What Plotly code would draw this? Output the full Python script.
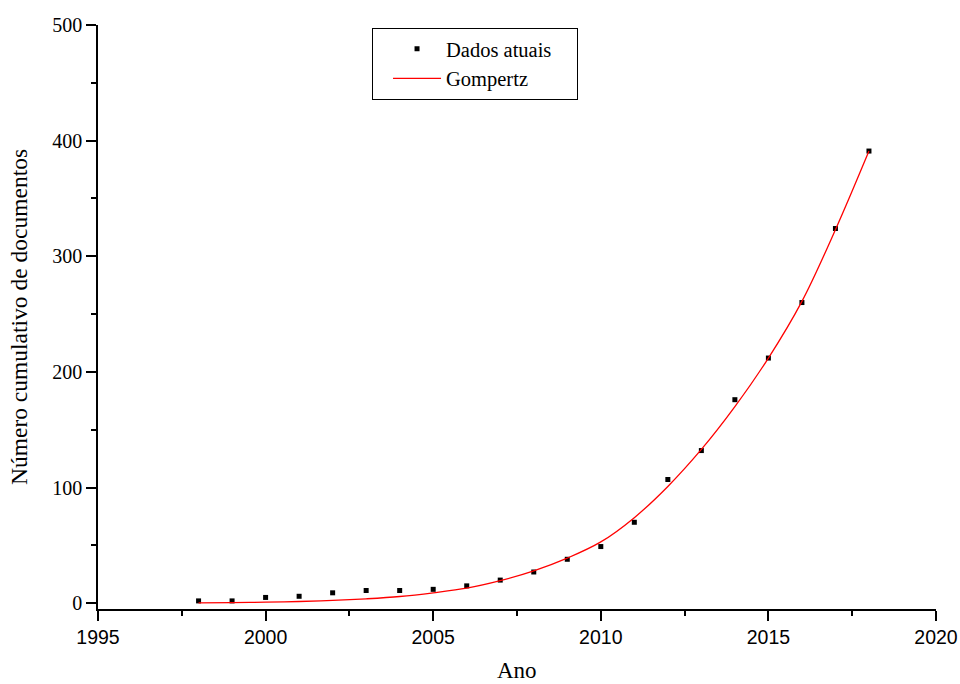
import plotly.graph_objects as go

# Observed cumulative document counts per year
years = [1998, 1999, 2000, 2001, 2002, 2003, 2004, 2005, 2006, 2007, 2008,
         2009, 2010, 2011, 2012, 2013, 2014, 2015, 2016, 2017, 2018]
counts = [2, 2, 5, 6, 9, 11, 11, 12, 15, 20, 27,
          38, 49, 70, 107, 132, 176, 212, 260, 324, 391]

# Gompertz fit evaluated at each year
fit_years = years
fit_values = [0.3, 0.5, 0.9, 1.5, 2.4, 3.8, 5.8, 9, 13, 19.5, 28,
              39, 53, 74, 101, 133, 170, 212, 261, 323, 391]

serif = "Liberation Serif"
sans = "Liberation Sans"
pad = "\u00a0" * 4  # extra room on the right of the legend box

fig = go.Figure()
fig.add_trace(go.Scatter(
    x=years, y=counts, mode="markers", name="Dados atuais" + pad,
    marker=dict(symbol="square", size=5, color="black"),
))
fig.add_trace(go.Scatter(
    x=fit_years, y=fit_values, mode="lines", name="Gompertz",
    line=dict(color="red", width=1.3, shape="spline"),
))

fig.update_layout(
    width=960, height=684,
    margin=dict(l=98, r=24, t=25, b=75),
    plot_bgcolor="white", paper_bgcolor="white",
    font=dict(family=serif, size=20, color="black"),
    legend=dict(
        x=0.327, y=0.995, xanchor="left", yanchor="top",
        bordercolor="black", borderwidth=1, bgcolor="white",
        font=dict(family=serif, size=20.5, color="black"),
        itemwidth=48, indentation=15, tracegroupgap=0,
    ),
    showlegend=True,
    annotations=[dict(
        text="Ano", xref="paper", yref="paper", x=0.5, y=-0.105,
        xanchor="center", yanchor="middle", showarrow=False,
        font=dict(family=serif, size=23, color="black"),
    )],
)

fig.update_xaxes(
    range=[1995, 2020], tickvals=[1995, 2000, 2005, 2010, 2015, 2020],
    showline=True, linecolor="black", linewidth=1.5,
    ticks="outside", ticklen=10, tickwidth=1.5, tickcolor="black",
    minor=dict(dtick=2.5, tick0=1995, ticks="outside", ticklen=5,
               tickwidth=1.5, tickcolor="black"),
    showgrid=False, zeroline=False, automargin=False,
    tickfont=dict(family=sans, size=19.5, color="black"),
)
fig.update_yaxes(
    range=[-5, 500], tickvals=[0, 100, 200, 300, 400, 500],
    showline=True, linecolor="black", linewidth=1.5,
    ticks="outside", ticklen=10, tickwidth=1.5, tickcolor="black",
    minor=dict(dtick=50, tick0=0, ticks="outside", ticklen=5,
               tickwidth=1.5, tickcolor="black"),
    showgrid=False, zeroline=False, automargin=False,
    tickfont=dict(family=serif, size=20, color="black"),
    title=dict(text="Número cumulativo de documentos",
               font=dict(family=serif, size=23.5), standoff=18),
)

fig.write_html("out.html")
